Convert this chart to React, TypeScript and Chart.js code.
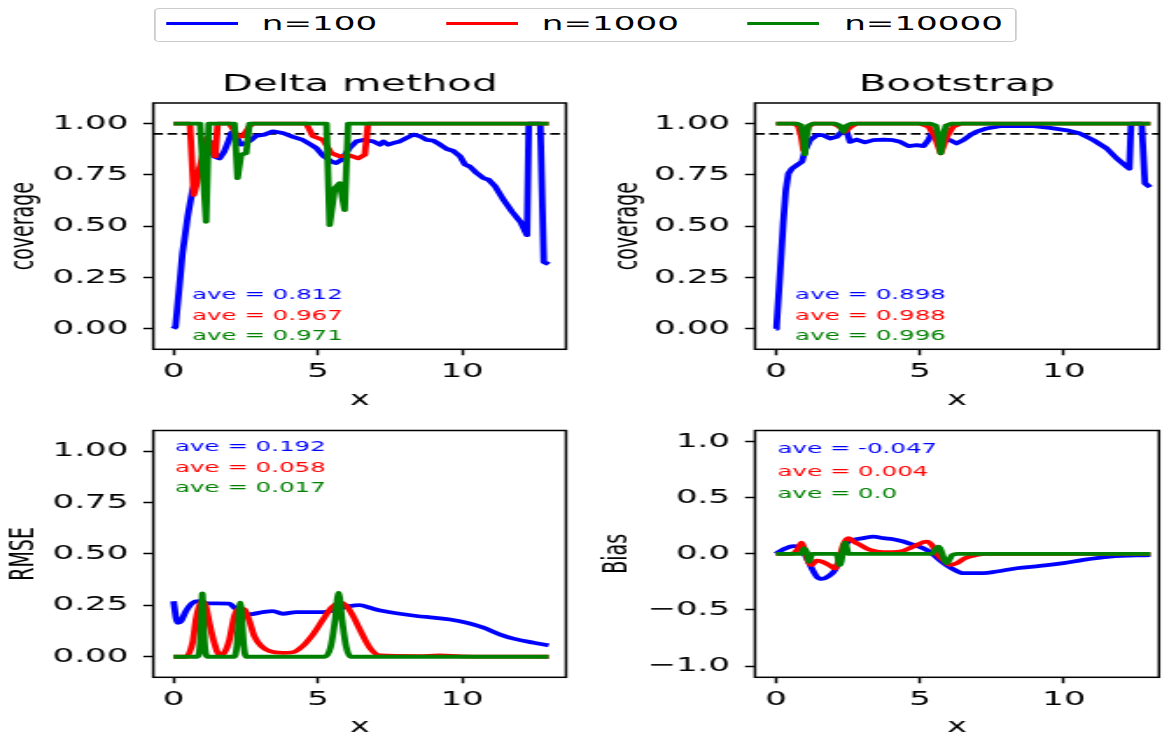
import React, { useEffect, useRef } from 'react';
import { Chart, registerables } from 'chart.js';

Chart.register(...registerables);

const STRETCH = 1.75;
const FONT = '"DejaVu Sans", sans-serif';
const W0 = 1165 / STRETCH;

// ---------------- data ----------------
const seriesNames = ['n=100', 'n=1000', 'n=10000'];
const seriesColors = ['#0000ff', '#ff0000', '#008000'];

const coverageTicks = [0, 0.25, 0.5, 0.75, 1];
const rmseTicks = [0, 0.25, 0.5, 0.75, 1];
const biasTicks = [-1, -0.5, 0, 0.5, 1];
const xTicks = [0, 5, 10];
const nominalCoverage = 0.95;

const deltaCoverageAve = ['0.812', '0.967', '0.971'];
const bootCoverageAve = ['0.898', '0.988', '0.996'];
const rmseAve = ['0.192', '0.058', '0.017'];
const biasAve = ['-0.047', '0.004', '0.0'];

// Delta method coverage
const deltaCov100X = [0, 0.07, 0.31, 0.49, 0.66, 0.83, 1.01, 1.18, 1.3, 1.41, 1.59, 1.76, 1.94, 2.0, 2.17, 2.34, 2.52, 2.69, 2.86, 3.15, 3.44, 3.79, 4.14, 4.48, 4.72, 4.95, 5.18, 5.47, 5.64, 5.82, 6.1, 6.34, 6.57, 6.92, 7.15, 7.27, 7.44, 7.61, 7.84, 8.08, 8.31, 8.54, 8.77, 9.0, 9.24, 9.47, 9.7, 9.93, 10.1, 10.27, 10.51, 10.74, 10.92, 11.15, 11.44, 11.73, 12.02, 12.25, 12.31, 12.71, 12.83, 13.0];
const deltaCov100Y = [0, 0.01, 0.366, 0.546, 0.676, 0.75, 0.81, 0.856, 0.91, 0.84, 0.83, 0.864, 0.927, 0.955, 0.938, 0.897, 0.905, 0.92, 0.94, 0.946, 0.962, 0.954, 0.935, 0.92, 0.9, 0.88, 0.843, 0.815, 0.807, 0.824, 0.88, 0.913, 0.92, 0.913, 0.897, 0.913, 0.897, 0.905, 0.913, 0.93, 0.946, 0.938, 0.92, 0.917, 0.897, 0.876, 0.866, 0.84, 0.8, 0.79, 0.758, 0.734, 0.726, 0.693, 0.627, 0.57, 0.521, 0.456, 1.0, 1.0, 0.325, 0.314];
const deltaCov1000X = [0, 0.57, 0.7, 0.78, 0.89, 1.0, 1.15, 1.3, 1.45, 1.53, 1.94, 2.22, 2.4, 2.63, 2.75, 4.6, 4.83, 5.18, 5.47, 5.76, 6.1, 6.4, 6.63, 6.74, 13.0];
const deltaCov1000Y = [1, 1, 0.652, 0.693, 0.775, 0.84, 0.93, 0.9, 0.84, 1.0, 1.0, 0.938, 0.938, 0.986, 1.0, 1.0, 0.938, 0.92, 0.856, 0.84, 0.845, 0.83, 0.848, 1.0, 1.0];
const deltaCov10000X = [0, 0.92, 1.13, 1.22, 2.11, 2.22, 2.34, 2.52, 2.63, 5.3, 5.41, 5.59, 5.76, 5.93, 6.05, 13.0];
const deltaCov10000Y = [1, 1, 0.521, 1, 1, 0.734, 0.848, 0.856, 1, 1, 0.505, 0.685, 0.709, 0.578, 1, 1];

// Bootstrap coverage
const bootCov100X = [0, 0.02, 0.14, 0.25, 0.34, 0.43, 0.55, 0.72, 0.9, 1.01, 1.18, 1.41, 1.64, 1.88, 2.11, 2.28, 2.42, 2.57, 2.8, 3.09, 3.37, 3.72, 4.07, 4.31, 4.6, 4.89, 5.12, 5.29, 5.4, 5.6, 5.8, 6.04, 6.27, 6.5, 6.74, 6.96, 7.31, 7.78, 8.36, 8.94, 9.51, 10.1, 10.56, 11.02, 11.48, 11.83, 12.18, 12.27, 12.33, 12.7, 12.81, 12.99];
const bootCov100Y = [0, 0.013, 0.27, 0.515, 0.676, 0.757, 0.78, 0.797, 0.814, 0.87, 0.919, 0.943, 0.943, 0.927, 0.935, 0.96, 0.976, 0.911, 0.922, 0.908, 0.919, 0.922, 0.919, 0.911, 0.89, 0.895, 0.89, 0.919, 0.951, 0.94, 0.93, 0.919, 0.903, 0.919, 0.943, 0.96, 0.976, 0.987, 0.987, 0.987, 0.979, 0.967, 0.951, 0.919, 0.879, 0.83, 0.79, 0.78, 1.0, 1.0, 0.709, 0.69];
const bootCov1000X = [0, 0.66, 0.78, 0.87, 0.95, 1.03, 1.12, 1.3, 1.98, 2.2, 2.4, 2.6, 2.8, 5.0, 5.3, 5.5, 5.72, 5.95, 6.15, 6.44, 13.0];
const bootCov1000Y = [1, 1, 0.985, 0.94, 0.87, 0.94, 0.985, 1, 1, 0.985, 0.96, 0.985, 1, 1, 0.985, 0.94, 0.855, 0.94, 0.985, 1, 1];
const bootCov10000X = [0, 0.72, 0.88, 0.96, 1.0, 1.05, 1.13, 1.3, 2.04, 2.22, 2.34, 2.46, 2.63, 5.35, 5.55, 5.66, 5.72, 5.79, 5.9, 6.1, 13.0];
const bootCov10000Y = [1, 1, 0.99, 0.93, 0.85, 0.93, 0.99, 1, 1, 0.99, 0.96, 0.99, 1, 1, 0.99, 0.93, 0.855, 0.93, 0.99, 1, 1];

// RMSE (delta method)
const rmse100X = [0, 0.14, 0.26, 0.43, 0.66, 0.89, 1.18, 1.47, 1.94, 2.11, 2.34, 2.63, 3.09, 3.44, 3.79, 4.25, 4.72, 5.18, 5.64, 6.1, 6.45, 6.8, 7.26, 7.84, 8.42, 9.0, 9.58, 10.16, 10.74, 11.32, 11.78, 12.48, 13.0];
const rmse100Y = [0.27, 0.165, 0.173, 0.222, 0.262, 0.27, 0.259, 0.259, 0.258, 0.238, 0.222, 0.206, 0.217, 0.222, 0.209, 0.217, 0.217, 0.217, 0.23, 0.246, 0.251, 0.238, 0.222, 0.209, 0.198, 0.19, 0.181, 0.165, 0.141, 0.108, 0.088, 0.068, 0.055];
const rmse1000X = [0, 0.43, 0.66, 0.78, 0.89, 1.0, 1.12, 1.24, 1.41, 1.59, 1.76, 1.94, 2.11, 2.28, 2.46, 2.63, 2.8, 3.04, 3.33, 3.79, 4.14, 4.48, 4.83, 5.18, 5.47, 5.76, 6.0, 6.22, 6.51, 6.8, 7.15, 8.5, 9.2, 10.0, 13.0];
const rmse1000Y = [0, 0, 0.068, 0.181, 0.246, 0.27, 0.246, 0.165, 0.068, 0.01, 0.02, 0.084, 0.198, 0.238, 0.23, 0.173, 0.1, 0.052, 0.027, 0.019, 0.022, 0.052, 0.108, 0.181, 0.238, 0.263, 0.246, 0.198, 0.117, 0.044, 0.006, 0.003, 0.006, 0.002, 0];
const rmse10000X = [0, 0.83, 0.92, 0.97, 1.0, 1.03, 1.08, 1.18, 2.11, 2.2, 2.26, 2.31, 2.37, 2.43, 2.52, 5.24, 5.45, 5.6, 5.72, 5.84, 5.98, 6.13, 13.0];
const rmse10000Y = [0, 0, 0.06, 0.2, 0.308, 0.2, 0.06, 0, 0, 0.06, 0.18, 0.263, 0.18, 0.06, 0, 0, 0.05, 0.18, 0.311, 0.18, 0.05, 0, 0];

// Bias (bootstrap)
const bias100X = [0, 0.25, 0.6, 0.83, 1.07, 1.24, 1.41, 1.59, 1.82, 2.05, 2.29, 2.45, 2.68, 3.03, 3.38, 3.73, 4.07, 4.42, 4.77, 5.11, 5.41, 5.75, 6.1, 6.5, 7.2, 7.66, 8.36, 9.17, 9.98, 10.67, 11.6, 13.0];
const bias100Y = [0, 0.04, 0.07, 0.065, -0.038, -0.128, -0.202, -0.223, -0.2, -0.143, 0.006, 0.095, 0.125, 0.14, 0.154, 0.14, 0.131, 0.11, 0.08, 0.05, 0.006, -0.068, -0.128, -0.172, -0.172, -0.157, -0.128, -0.107, -0.083, -0.053, -0.024, -0.01];
const bias1000X = [0, 0.55, 0.75, 0.89, 1.0, 1.12, 1.24, 1.4, 1.6, 1.85, 2.05, 2.2, 2.35, 2.52, 2.7, 2.92, 3.26, 3.73, 4.3, 4.77, 5.23, 5.41, 5.59, 5.87, 6.04, 6.27, 6.56, 6.96, 7.3, 13.0];
const bias1000Y = [0, 0, 0.04, 0.1, 0.03, -0.068, -0.1, -0.06, -0.07, -0.1, -0.13, -0.04, 0.09, 0.14, 0.11, 0.08, 0.036, 0.015, 0.02, 0.065, 0.11, 0.08, 0.0, -0.068, -0.098, -0.083, -0.038, -0.01, 0, 0];
const bias10000X = [0, 0.88, 0.97, 1.06, 1.15, 1.25, 2.1, 2.22, 2.4, 2.52, 5.4, 5.64, 5.93, 6.12, 6.3, 13.0];
const bias10000Y = [0, 0, 0.05, 0.02, -0.07, 0, 0, -0.1, 0.1, 0, 0, 0.065, -0.083, -0.01, 0, 0];

// ---------------- layout ----------------
type Geom = {
  canvasLeft: number; canvasTop: number; canvasW: number; canvasH: number;
  chartLeft: number; chartRight: number; chartTop: number; chartBottom: number;
  xTitleMid: number; yTitleCenter: number;
};

const leftCol = { canvasLeft: 0, canvasW: 330, chartLeft: 153.3 / STRETCH, chartRight: 566 / STRETCH };
const rightCol = { canvasLeft: 340, canvasW: 326, chartLeft: 755 / STRETCH, chartRight: 1159 / STRETCH };
const topRow = { canvasTop: 55, canvasH: 360, chartTop: 103, chartBottom: 349.3, xTitleMid: 400 };
const botRow = { canvasTop: 400, canvasH: 338, chartTop: 430.5, chartBottom: 677.3, xTitleMid: 727.5 };

type Panel = {
  key: string;
  title?: string;
  yLabel: string;
  xs: number[][];
  ys: number[][];
  smooth: boolean;
  yMin: number; yMax: number; yTicks: number[]; yDecimals: number;
  xMin: number; xMax: number;
  hline?: number;
  aves: string[];
  aveX: number; aveY: number[];
  geom: Geom;
};

const panels: Panel[] = [
  {
    key: 'tl', title: 'Delta method', yLabel: 'coverage',
    xs: [deltaCov100X, deltaCov1000X, deltaCov10000X], ys: [deltaCov100Y, deltaCov1000Y, deltaCov10000Y],
    smooth: false, yMin: -0.1, yMax: 1.1, yTicks: coverageTicks, yDecimals: 2, xMin: -0.7, xMax: 13.6,
    hline: nominalCoverage, aves: deltaCoverageAve, aveX: 0.64, aveY: [0.163, 0.062, -0.039],
    geom: { ...leftCol, ...topRow, yTitleCenter: 24.5 / STRETCH } as Geom,
  },
  {
    key: 'tr', title: 'Bootstrap', yLabel: 'coverage',
    xs: [bootCov100X, bootCov1000X, bootCov10000X], ys: [bootCov100Y, bootCov1000Y, bootCov10000Y],
    smooth: false, yMin: -0.1, yMax: 1.1, yTicks: coverageTicks, yDecimals: 2, xMin: -0.73, xMax: 13.3,
    hline: nominalCoverage, aves: bootCoverageAve, aveX: 0.66, aveY: [0.163, 0.062, -0.039],
    geom: { ...rightCol, ...topRow, yTitleCenter: 629 / STRETCH } as Geom,
  },
  {
    key: 'bl', yLabel: 'RMSE',
    xs: [rmse100X, rmse1000X, rmse10000X], ys: [rmse100Y, rmse1000Y, rmse10000Y],
    smooth: true, yMin: -0.1, yMax: 1.1, yTicks: rmseTicks, yDecimals: 2, xMin: -0.7, xMax: 13.6,
    aves: rmseAve, aveX: 0.05, aveY: [1.016, 0.916, 0.817],
    geom: { ...leftCol, ...botRow, yTitleCenter: 24 / STRETCH } as Geom,
  },
  {
    key: 'br', yLabel: 'Bias',
    xs: [bias100X, bias1000X, bias10000X], ys: [bias100Y, bias1000Y, bias10000Y],
    smooth: true, yMin: -1.1, yMax: 1.1, yTicks: biasTicks, yDecimals: 1, xMin: -0.73, xMax: 13.3,
    aves: biasAve, aveX: 0.05, aveY: [0.93, 0.73, 0.53],
    geom: { ...rightCol, ...botRow, yTitleCenter: 618 / STRETCH } as Geom,
  },
];

// ---------------- plugin ----------------
const panelDecor = {
  id: 'panelDecor',
  afterDraw(chart: any, _args: any, opts: any) {
    const { ctx, chartArea } = chart;
    const { left, right, top, bottom } = chartArea;
    ctx.save();
    ctx.strokeStyle = '#000';
    ctx.lineWidth = 1.5;
    ctx.strokeRect(left, top, right - left, bottom - top);
    if (opts.title) {
      ctx.fillStyle = '#000';
      ctx.font = `23px ${FONT}`;
      ctx.textAlign = 'center';
      ctx.textBaseline = 'alphabetic';
      ctx.fillText(opts.title, (left + right) / 2, top - 12.3);
    }
    const xs = chart.scales.x;
    const ys = chart.scales.y;
    ctx.font = `14px ${FONT}`;
    ctx.textAlign = 'left';
    ctx.textBaseline = 'middle';
    (opts.aves || []).forEach((t: string, i: number) => {
      ctx.fillStyle = seriesColors[i];
      ctx.fillText(`ave = ${t}`, xs.getPixelForValue(opts.aveX), ys.getPixelForValue(opts.aveY[i]));
    });
    ctx.restore();
  },
};

function fmt(v: number, d: number) {
  const s = Math.abs(v).toFixed(d);
  return v < 0 ? '\u2212' + s : s;
}

function buildConfig(p: Panel): any {
  const g = p.geom;
  const yAxisW = g.chartLeft - g.canvasLeft;
  const padRight = g.canvasLeft + g.canvasW - g.chartRight;
  const padTop = g.chartTop - g.canvasTop;
  const xAxisH = g.canvasTop + g.canvasH - g.chartBottom;
  const xTitleFont = 19;
  const xTitlePadB = Math.max(0, g.canvasTop + g.canvasH - g.xTitleMid - (xTitleFont * 1.2) / 2);
  const yTitlePadT = g.yTitleCenter - g.canvasLeft - (xTitleFont * 1.2) / 2;

  const datasets: any[] = p.xs.map((xArr, i) => ({
    label: seriesNames[i],
    data: xArr.map((xv, j) => ({ x: xv, y: p.ys[i][j] })),
    borderColor: seriesColors[i],
    backgroundColor: seriesColors[i],
    borderWidth: 3.8,
    pointRadius: 0,
    tension: 0,
    cubicInterpolationMode: p.smooth ? 'monotone' : 'default',
    borderJoinStyle: 'round',
    fill: false,
    order: 2 - i,
  }));
  if (p.hline !== undefined) {
    datasets.push({
      label: 'nominal',
      data: [{ x: p.xMin, y: p.hline }, { x: p.xMax, y: p.hline }],
      borderColor: '#000',
      borderWidth: 1.8,
      borderDash: [5.5, 2.6],
      pointRadius: 0,
      fill: false,
      order: 3,
    });
  }

  return {
    type: 'line',
    data: { datasets },
    plugins: [panelDecor],
    options: {
      animation: false,
      responsive: false,
      devicePixelRatio: 1,
      parsing: false,
      layout: { padding: { left: 0, right: padRight, top: padTop, bottom: 0 } },
      plugins: {
        legend: { display: false },
        tooltip: { enabled: false },
        panelDecor: { title: p.title, aves: p.aves, aveX: p.aveX, aveY: p.aveY },
      },
      scales: {
        x: {
          type: 'linear',
          min: p.xMin,
          max: p.xMax,
          afterBuildTicks: (sc: any) => { sc.ticks = xTicks.map((v) => ({ value: v })); },
          afterFit: (sc: any) => { sc.height = xAxisH; },
          grid: { display: true, drawOnChartArea: false, drawTicks: true, tickLength: 6, tickWidth: 1.5, tickColor: '#000', color: '#000' },
          border: { display: false },
          ticks: { color: '#000', font: { family: FONT, size: 19.5 }, padding: 5, maxRotation: 0, autoSkip: false, callback: (v: any) => String(v) },
          title: { display: true, text: 'x', color: '#000', font: { family: FONT, size: xTitleFont }, padding: { top: 0, bottom: xTitlePadB } },
        },
        y: {
          type: 'linear',
          min: p.yMin,
          max: p.yMax,
          afterBuildTicks: (sc: any) => { sc.ticks = p.yTicks.map((v) => ({ value: v })); },
          afterFit: (sc: any) => { sc.width = yAxisW; },
          grid: { display: true, drawOnChartArea: false, drawTicks: true, tickLength: 5.7, tickWidth: 1.5, tickColor: '#000', color: '#000' },
          border: { display: false },
          ticks: { color: '#000', font: { family: FONT, size: 19.5 }, padding: 8.5, autoSkip: false, callback: (v: any) => fmt(Number(v), p.yDecimals) },
          title: { display: true, text: p.yLabel, color: '#000', font: { family: FONT, size: xTitleFont }, padding: { top: yTitlePadT, bottom: 0 } },
        },
      },
    },
  };
}

function PanelChart({ panel }: { panel: Panel }) {
  const ref = useRef<HTMLCanvasElement>(null);
  useEffect(() => {
    const chart = new Chart(ref.current as HTMLCanvasElement, buildConfig(panel));
    return () => chart.destroy();
  }, [panel]);
  const g = panel.geom;
  return (
    <canvas
      ref={ref}
      width={g.canvasW}
      height={g.canvasH}
      style={{ position: 'absolute', left: g.canvasLeft, top: g.canvasTop, width: g.canvasW, height: g.canvasH }}
    />
  );
}

function Legend() {
  const lineLeft = [94.9, 254.9, 427];
  const textLeft = [149.6, 309.6, 482.4];
  return (
    <div>
      <div style={{ position: 'absolute', left: 87.6, top: 7.7, width: 493.4, height: 34.6, border: '1px solid #cccccc', borderRadius: 3, boxSizing: 'border-box', background: '#fff' }} />
      {seriesNames.map((n, i) => (
        <React.Fragment key={n}>
          <div style={{ position: 'absolute', left: lineLeft[i], top: 23.3 - 1.7, width: 41.3, height: 3.4, background: seriesColors[i] }} />
          <span style={{ position: 'absolute', left: textLeft[i], top: 14.2, fontFamily: FONT, fontSize: 19.5, lineHeight: '19.5px', color: '#000', whiteSpace: 'nowrap' }}>{n}</span>
        </React.Fragment>
      ))}
    </div>
  );
}

export default function App() {
  return (
    <div
      style={{
        position: 'fixed', left: 0, top: 0, width: W0, height: 738, overflow: 'hidden',
        transform: `scaleX(${STRETCH})`, transformOrigin: '0 0', background: '#fff',
      }}
    >
      <Legend />
      {panels.map((p) => <PanelChart key={p.key} panel={p} />)}
    </div>
  );
}
